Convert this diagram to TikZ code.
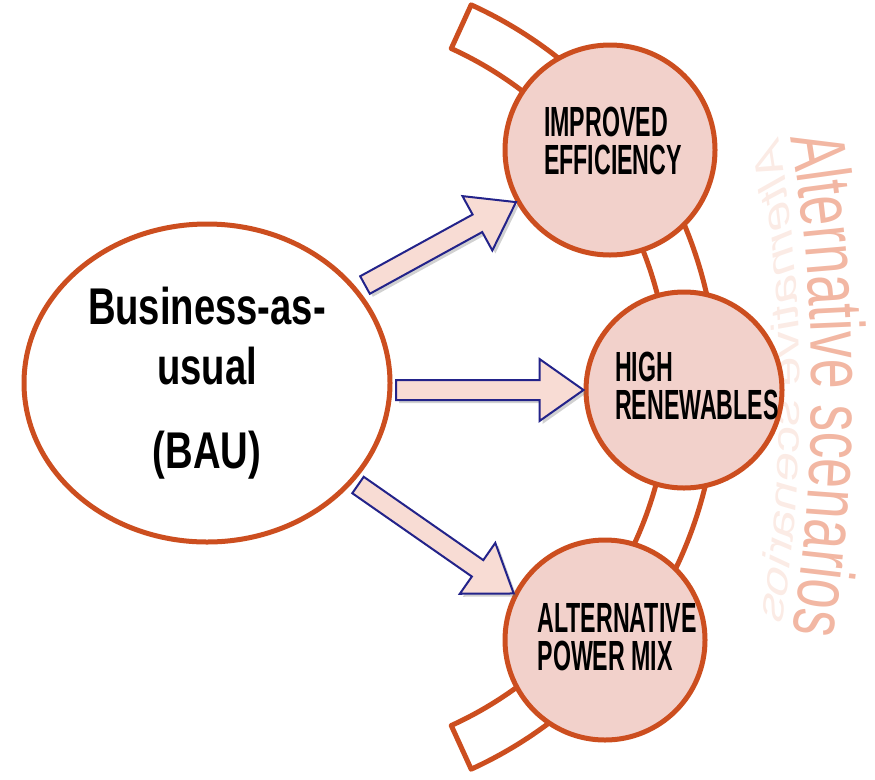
\documentclass[tikz,border=0pt]{standalone}
\usepackage{fontspec}
\usepackage{tikz}
\usetikzlibrary{positioning,calc,shapes.geometric,shadows,decorations.text}
\newfontfamily\baufont[FakeStretch=0.74]{Liberation Sans}
\newfontfamily\scenfont[FakeStretch=0.55]{Liberation Sans}
\newfontfamily\altfont[FakeStretch=0.70]{Liberation Sans}
\newcommand{\alttext}{\altfont\fontsize{21.8}{24}\selectfont}
\definecolor{rust}{HTML}{CC4E1F}
\definecolor{blush}{HTML}{F2D1CB}
\definecolor{arrowfill}{HTML}{F8DCD4}
\definecolor{navy}{HTML}{23238A}
\definecolor{altc}{HTML}{F2B7A3}
\tikzset{
base/.style = {draw=rust, line width=0.05cm},
bau/.style = {base, ellipse, fill=white, minimum width=3.66cm, minimum height=3.18cm, inner sep=0pt, align=center, font=\baufont\bfseries\fontsize{14.7}{17.3}\selectfont},
scen/.style = {base, circle, fill=blush, inner sep=0pt},
scenlbl/.style = {inner sep=0pt, align=left, font=\scenfont\bfseries\fontsize{12}{10.8}\selectfont},
band/.style = {base, fill=white, line join=round},
barrow/.style = {draw=navy, fill=arrowfill, line width=0.02cm, drop shadow={shadow xshift=0.03cm, shadow yshift=-0.03cm, opacity=0.3, fill=black!60}}
}
% fat arrow from #1 to #2
\newcommand{\blockarrow}[2]{%
  \coordinate (hb) at ($(#2)!0.44cm!(#1)$);
  \draw[barrow] ($(#1)!0.1cm!90:(#2)$) -- ($(hb)!0.1cm!90:(#2)$) -- ($(hb)!0.31cm!90:(#2)$) -- (#2)
    -- ($(hb)!0.31cm!-90:(#2)$) -- ($(hb)!0.1cm!-90:(#2)$) -- ($(#1)!0.1cm!-90:(#2)$) -- cycle;}

\begin{document}
\begin{tikzpicture}
  \useasboundingbox (0,0) rectangle (8.75,-7.79);
  \coordinate (bandc) at (2.97,-3.87);
  \coordinate (arcc)  at (-7.13,-3.90);

  % band behind the scenarios
  \draw[band] (bandc) ++(65.5:4.2) arc[start angle=65.5, end angle=-65.5, radius=4.2]
    -- ($(bandc)+(-65.5:3.72)$) arc[start angle=-65.5, end angle=65.5, radius=3.72] -- cycle;

  % title and its (squashed) reflection
  \begin{scope}[transform canvas={xshift=8cm, xscale=-0.5}]
    \path[decorate, decoration={text along path, text color=altc!28, text={|\alttext|Alternative scenarios}}]
      (30.5,-3.90) ++(170.45:30.5 and 15.25) arc[start angle=170.45, end angle=192, x radius=30.5, y radius=15.25];
  \end{scope}
  \path[decorate, decoration={text along path, text color=altc, text={|\alttext|Alternative scenarios}}]
    (arcc) ++(9.55:15.25) arc[start angle=9.55, end angle=-12, radius=15.25];

  \node[bau] (bau) at (2.07,-3.83) {Business-as-\\usual\\[6.5pt](BAU)};
  \node[scen, minimum size=2.1cm, label={[scenlbl, xshift=0.03cm, yshift=0.09cm]center:IMPROVED\\EFFICIENCY}]
    (eff) at (6.10,-1.50) {};
  \node[scen, minimum size=1.96cm, label={[scenlbl, xshift=0.13cm, yshift=0.04cm]center:HIGH\\RENEWABLES}]
    (high) at (6.84,-3.90) {};
  \node[scen, minimum size=2.0cm, label={[scenlbl, xshift=0.12cm, yshift=0.03cm]center:ALTERNATIVE\\POWER MIX}]
    (mix) at (6.05,-6.40) {};

  \coordinate (t1) at (3.65,-2.85);
  \coordinate (t2) at (3.96,-3.90);
  \coordinate (t3) at (3.58,-4.85);
  \blockarrow{t1}{eff.209}
  \blockarrow{t2}{high.west}
  \blockarrow{t3}{mix.153}
\end{tikzpicture}
\end{document}
